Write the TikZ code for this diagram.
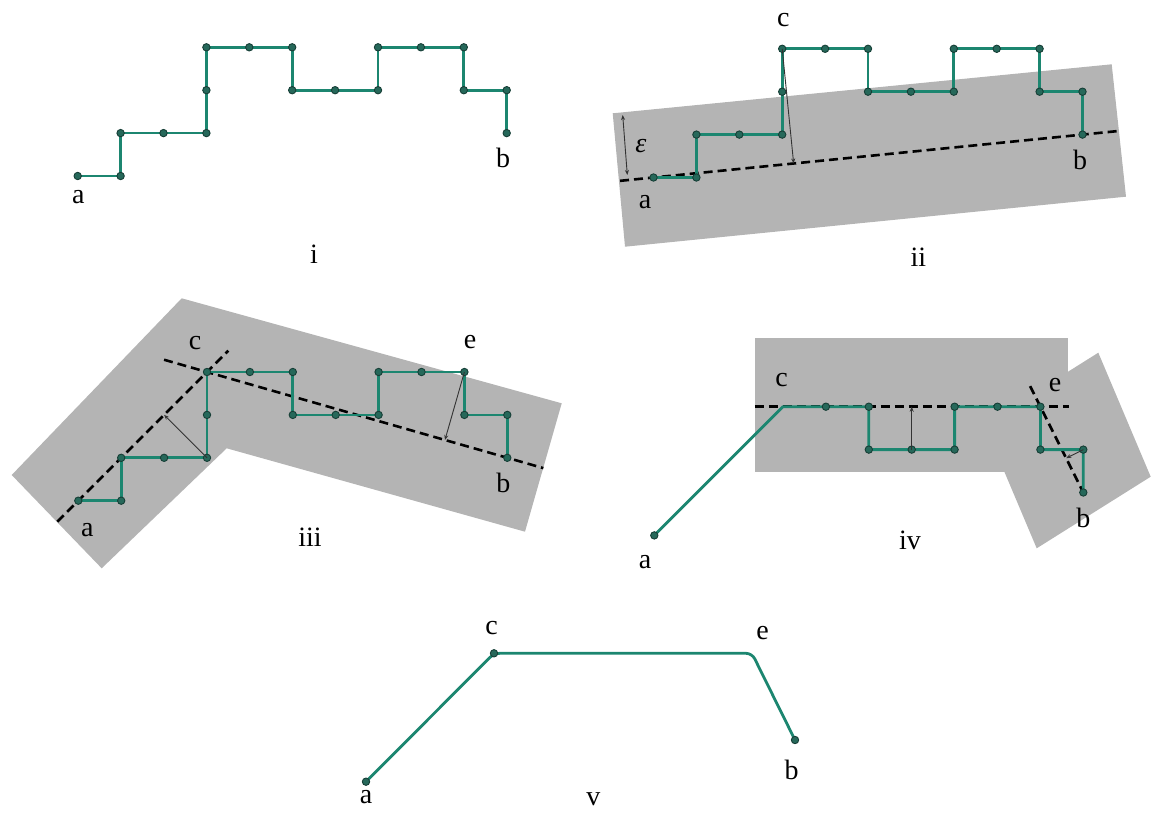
\documentclass[tikz,border=0pt]{standalone}
\usepackage{fontspec}
\setmainfont{Liberation Serif}
\usetikzlibrary{calc,arrows.meta}
\definecolor{pathgreen}{RGB}{28,134,112}
\definecolor{dotfill}{RGB}{38,104,90}
\definecolor{dotline}{RGB}{22,62,54}
\definecolor{bandgray}{RGB}{180,180,180}
\tikzset{
  route/.style={draw=pathgreen,line width=2.8pt,line join=round,line cap=round},
  vtx/.style={fill=dotfill,draw=dotline,line width=0.9pt},
  fitline/.style={draw=black,line width=2.6pt,dash pattern=on 9pt off 5pt},
  dist/.style={draw=black!80,line width=0.9pt,-{Stealth[length=5pt,width=4pt]}},
  twodist/.style={draw=black!80,line width=0.9pt,{Stealth[length=5pt,width=4pt]}-{Stealth[length=5pt,width=4pt]}},
  band/.style={fill=bandgray,draw=none},
  lbl/.style={font=\fontsize{28}{32}\selectfont,inner sep=0pt},
}
\newcommand\mkstair[3]{%
  \begin{scope}[shift={(#2,#3)},x=42.9pt,y=42.9pt]
    \foreach \k/\gx/\gy in {0/0/0,1/1/0,2/1/1,3/2/1,4/3/1,5/3/2,6/3/3,7/4/3,8/5/3,9/5/2,10/6/2,11/7/2,12/7/3,13/8/3,14/9/3,15/9/2,16/10/2,17/10/1}
      {\coordinate (#1\k) at (\gx,\gy);}
  \end{scope}}
\begin{document}
\begin{tikzpicture}[x=1pt,y=-1pt]
\useasboundingbox (0,0) rectangle (1151,813);

% ---------- panel i ----------
\mkstair{i}{77.7}{176}
\draw[route] (i0) foreach \k in {1,...,17} {-- (i\k)};
\foreach \k in {0,...,17} \fill[vtx] (i\k) circle (3.7pt);
\node[lbl] (ila) at (78.3,197) {a};
\node[lbl] (ilb) at (503,158) {b};
\node[lbl] (ilt) at (314,254) {i};

% ---------- panel ii ----------
\fill[band] (612.7,113.3) -- (1111.7,64.3) -- (1126,196.7) -- (625,246.7) -- cycle;
\mkstair{ii}{653.5}{177.5}
\draw[fitline] ($(ii0)!-0.078!(ii17)$) -- ($(ii0)!1.083!(ii17)$);
\draw[route] (ii0) foreach \k in {1,...,17} {-- (ii\k)};
\foreach \k in {0,...,17} \fill[vtx] (ii\k) circle (3.7pt);
\coordinate (iifoot) at ($(ii0)!(ii6)!(ii17)$);
\draw[dist] (ii6) -- (iifoot);
\coordinate (epsTop) at (622.7,115);
\coordinate (epsBot) at (627.3,175);
\draw[twodist] (epsTop) -- (epsBot);
\node[lbl] (iieps) at (641,146) {\textit{ε}};
\node[lbl] (iila) at (645,202) {a};
\node[lbl] (iilb) at (1080,160) {b};
\node[lbl] (iilc) at (783.3,20) {c};
\node[lbl] (iilt) at (918.3,257) {ii};

% ---------- panel iii ----------
\fill[band] (181.7,298.3) -- (561.7,403.3) -- (525,531.7) -- (226.7,448.3) -- (101.7,568.3) -- (11.7,475) -- cycle;
\mkstair{iii}{78.3}{500.7}
\draw[fitline] ($(iii0)!-0.163!(iii6)$) -- ($(iii0)!1.166!(iii6)$);
\draw[fitline] ($(iii6)!-0.143!(iii17)$) -- ($(iii6)!1.12!(iii17)$);
\draw[route] (iii0) foreach \k in {1,...,17} {-- (iii\k)};
\foreach \k in {0,...,17} \fill[vtx] (iii\k) circle (3.7pt);
\coordinate (iiifootA) at ($(iii0)!(iii4)!(iii6)$);
\coordinate (iiifootB) at ($(iii6)!(iii14)!(iii17)$);
\draw[dist] (iii4) -- (iiifootA);
\draw[dist] (iii14) -- (iiifootB);
\node[lbl] (iiila) at (87.3,530) {a};
\node[lbl] (iiilc) at (195,343.3) {c};
\node[lbl] (iiile) at (470,341.7) {e};
\node[lbl] (iiilb) at (503.3,483.3) {b};
\node[lbl] (iiilt) at (310,537) {iii};

% ---------- panel iv ----------
\fill[band] (755,338.3) rectangle (1068.3,471.7);
\fill[band] (1098.3,352.7) -- (1150.7,476.7) -- (1036.7,548.3) -- (984.3,424.3) -- cycle;
\mkstair{iv}{654.3}{535.4}
\draw[fitline] ($(iv6)!-0.109!(iv14)$) -- ($(iv6)!1.11!(iv14)$);
\draw[fitline] ($(iv14)!-0.24!(iv17)$) -- (iv17);
\draw[route] (iv0) -- (iv6) foreach \k in {7,...,17} {-- (iv\k)};
\fill[vtx] (iv0) circle (3.7pt);
\foreach \k in {7,...,17} \fill[vtx] (iv\k) circle (3.7pt);
\coordinate (ivfootA) at ($(iv6)!(iv10)!(iv14)$);
\coordinate (ivfootB) at ($(iv14)!(iv16)!(iv17)$);
\draw[dist] (iv10) -- (ivfootA);
\draw[dist] (iv16) -- (ivfootB);
\node[lbl] (ivla) at (645,561.7) {a};
\node[lbl] (ivlc) at (781.7,380) {c};
\node[lbl] (ivle) at (1055,385) {e};
\node[lbl] (ivlb) at (1083.3,518.3) {b};
\node[lbl] (ivlt) at (910,540) {iv};

% ---------- panel v ----------
\coordinate (va) at (366,781.7);
\coordinate (vc) at (494,653.3);
\coordinate (ve) at (752,653.3);
\coordinate (vb) at (795,740);
\draw[route,rounded corners=6pt] (va) -- (vc) -- (ve) -- (vb);
\foreach \p in {va,vc,vb} \fill[vtx] (\p) circle (3.7pt);
\node[lbl] (vla) at (366,797) {a};
\node[lbl] (vlc) at (491.7,628.3) {c};
\node[lbl] (vle) at (762.7,633.3) {e};
\node[lbl] (vlb) at (791.7,770) {b};
\node[lbl] (vlt) at (593.3,799) {v};
\end{tikzpicture}
\end{document}
